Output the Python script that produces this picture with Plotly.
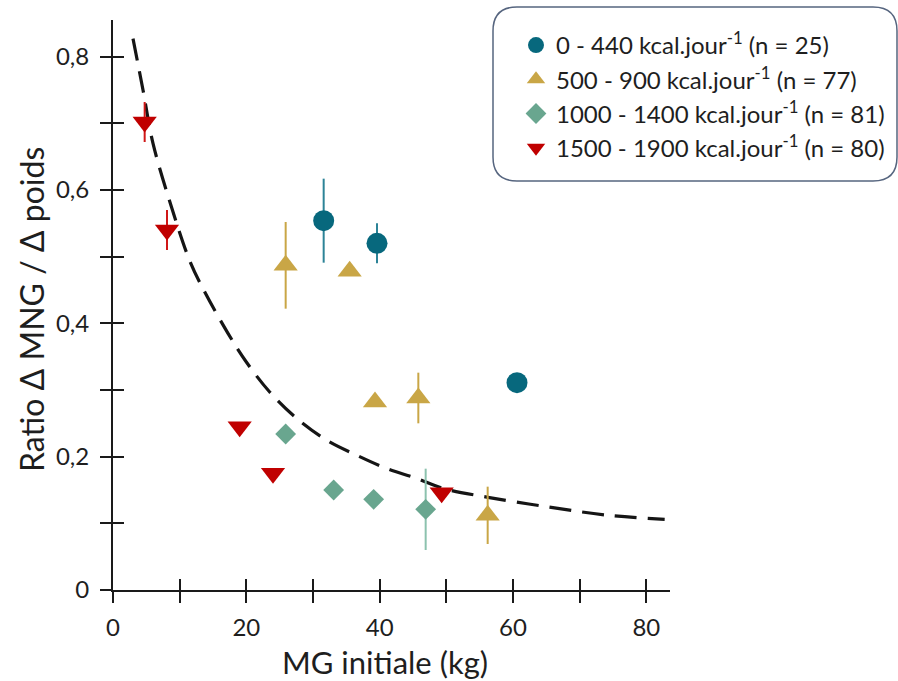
import plotly.graph_objects as go

# ---------------- data ----------------
series_names = [
    "0 - 440 kcal.jour<sup>-1</sup> (n = 25)",
    "500 - 900 kcal.jour<sup>-1</sup> (n = 77)",
    "1000 - 1400 kcal.jour<sup>-1</sup> (n = 81)",
    "1500 - 1900 kcal.jour<sup>-1</sup> (n = 80)",
]

x_0_440 = [31.6, 39.6, 60.6]
y_0_440 = [0.554, 0.520, 0.311]
err_0_440 = [0.063, 0.030, 0.0]

x_500_900 = [25.9, 35.5, 39.3, 45.8, 56.2]
y_500_900 = [0.487, 0.478, 0.282, 0.288, 0.112]
err_500_900 = [0.065, 0.0, 0.0, 0.038, 0.043]

x_1000_1400 = [25.9, 33.1, 39.1, 46.9]
y_1000_1400 = [0.234, 0.150, 0.136, 0.121]
err_1000_1400 = [0.0, 0.0, 0.0, 0.061]

x_1500_1900 = [4.75, 8.1, 19.0, 24.0, 49.3]
y_1500_1900 = [0.702, 0.540, 0.245, 0.175, 0.146]
err_1500_1900 = [0.030, 0.030, 0.0, 0.0, 0.0]

curve_x = [3.0, 4.5, 6.0, 8.76, 11.5, 13.5, 17.25, 20.0, 23.5, 27.25, 32.0,
           36.5, 41.0, 45.5, 49.5, 56.25, 65.0, 74.0, 82.75]
curve_y = [0.827, 0.750, 0.670, 0.575, 0.494, 0.452, 0.385, 0.342, 0.297,
           0.260, 0.225, 0.2024, 0.1825, 0.1675, 0.1525, 0.139, 0.125,
           0.1124, 0.106]

x_tickvals = [0, 10, 20, 30, 40, 50, 60, 70, 80]
x_ticktext = ["0", "", "20", "", "40", "", "60", "", "80"]
y_tickvals = [0, 0.1, 0.2, 0.3, 0.4, 0.5, 0.6, 0.7, 0.8]
y_ticktext = ["0", "", "0,2", "", "0,4", "", "0,6", "", "0,8"]

x_title = "MG initiale (kg)"
y_title = "Ratio Δ MNG / Δ poids"

# ---------------- style ----------------
FONT = "Lato, Carlito, Calibri, 'Open Sans', sans-serif"
TXT = "#1e1e1e"
W, H = 898, 681
ML, MR, MT, MB = 113, 228, 20, 91
PW, PH = W - ML - MR, H - MT - MB
XMAX, YMAX = 83.55, 0.855


def pxx(px):
    """picture x pixel -> paper coordinate"""
    return (px - ML) / PW


def pxy(py):
    """picture y pixel -> paper coordinate"""
    return (H - MB - py) / PH


styles = [
    dict(symbol="circle", size=21, color="#07687D", ecolor="#2C8397"),
    dict(symbol="triangle-up", size=21, color="#C9A646", ecolor="#C9A646"),
    dict(symbol="diamond", size=16, color="#69A68F", ecolor="#8CC2AE"),
    dict(symbol="triangle-down", size=21, color="#C00000", ecolor="#D01818"),
]
data_sets = [
    (x_0_440, y_0_440, err_0_440),
    (x_500_900, y_500_900, err_500_900),
    (x_1000_1400, y_1000_1400, err_1000_1400),
    (x_1500_1900, y_1500_1900, err_1500_1900),
]

fig = go.Figure()

fig.add_trace(go.Scatter(
    x=curve_x, y=curve_y, mode="lines", showlegend=False,
    line=dict(color="#151515", width=3.2, dash="22px,11px", shape="spline", smoothing=1.0),
    hoverinfo="skip",
))

for name, st, (xs, ys, es) in zip(series_names, styles, data_sets):
    fig.add_trace(go.Scatter(
        x=xs, y=ys, mode="markers", name=name,
        marker=dict(symbol=st["symbol"], size=st["size"], color=st["color"],
                    line=dict(width=0)),
        error_y=dict(type="data", array=es, visible=True, thickness=2,
                     width=0, color=st["ecolor"]),
    ))

# empty trace to register the overlay axes used for the inner half of the ticks
fig.add_trace(go.Scatter(x=[], y=[], xaxis="x2", yaxis="y2", showlegend=False))

axis_common = dict(showgrid=False, zeroline=False, linecolor="#1a1a1a",
                   tickcolor="#1a1a1a", tickwidth=2, ticklen=11)

fig.update_layout(
    width=W, height=H,
    margin=dict(l=ML, r=MR, t=MT, b=MB, autoexpand=False),
    paper_bgcolor="white", plot_bgcolor="white",
    font=dict(family=FONT, color=TXT, size=24),
    xaxis=dict(range=[0, XMAX], tickvals=x_tickvals, ticktext=x_ticktext,
               ticks="outside", showline=True, linewidth=2,
               tickfont=dict(size=24, family=FONT, color=TXT),
               ticklabelstandoff=4, automargin=False, **axis_common),
    yaxis=dict(range=[0, YMAX], tickvals=y_tickvals, ticktext=y_ticktext,
               ticks="outside", showline=True, linewidth=2,
               tickfont=dict(size=24, family=FONT, color=TXT),
               ticklabelstandoff=6, automargin=False, **axis_common),
    xaxis2=dict(range=[0, XMAX], overlaying="x", anchor="y2", side="bottom",
                tickvals=x_tickvals, ticks="inside", showticklabels=False,
                showline=False, **axis_common),
    yaxis2=dict(range=[0, YMAX], overlaying="y", anchor="x2", side="left",
                tickvals=y_tickvals, ticks="inside", showticklabels=False,
                showline=False, **axis_common),
    legend=dict(x=pxx(516), y=pxy(23), xanchor="left", yanchor="top",
                bgcolor="rgba(0,0,0,0)", borderwidth=0,
                font=dict(size=24, family=FONT, color=TXT),
                tracegroupgap=0, itemsizing="trace"),
    showlegend=True,
)

# rounded legend frame
x0, x1, y0, y1, r = 493, 897, 7, 181, 24
path = (
    f"M {pxx(x0 + r)},{pxy(y0)} L {pxx(x1 - r)},{pxy(y0)} "
    f"Q {pxx(x1)},{pxy(y0)} {pxx(x1)},{pxy(y0 + r)} "
    f"L {pxx(x1)},{pxy(y1 - r)} Q {pxx(x1)},{pxy(y1)} {pxx(x1 - r)},{pxy(y1)} "
    f"L {pxx(x0 + r)},{pxy(y1)} Q {pxx(x0)},{pxy(y1)} {pxx(x0)},{pxy(y1 - r)} "
    f"L {pxx(x0)},{pxy(y0 + r)} Q {pxx(x0)},{pxy(y0)} {pxx(x0 + r)},{pxy(y0)} Z"
)
fig.add_shape(type="path", path=path, xref="paper", yref="paper",
              line=dict(color="#56657F", width=1.5), fillcolor="rgba(0,0,0,0)",
              layer="above")

fig.add_annotation(text=x_title, xref="paper", yref="paper",
                   x=pxx(385), y=pxy(662), xanchor="center", yanchor="middle",
                   showarrow=False, font=dict(size=31, family=FONT, color=TXT))
fig.add_annotation(text=y_title, xref="paper", yref="paper",
                   x=pxx(31), y=pxy(310), xanchor="center", yanchor="middle",
                   textangle=-90, showarrow=False,
                   font=dict(size=32, family=FONT, color=TXT))

fig.write_html(
    "out.html",
    config={"displayModeBar": False},
    post_script="document.body.style.margin='0';document.body.style.overflow='hidden';",
)
